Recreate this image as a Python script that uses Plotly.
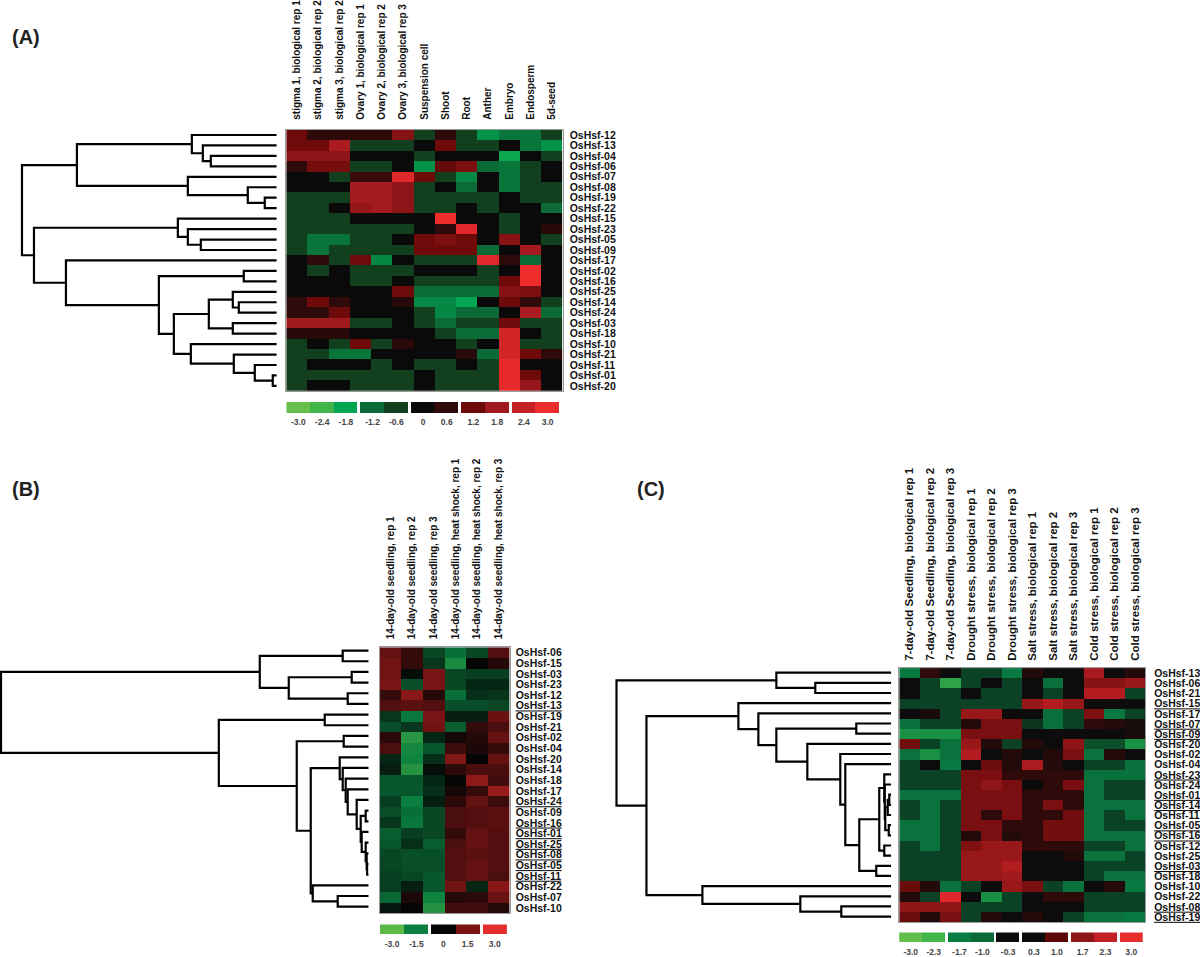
import plotly.graph_objects as go

W, H = 1200, 957

# ---- panel A data ----
a_cols = ['stigma 1, biological rep 1', 'stigma 2, biological rep 2', 'stigma 3, biological rep 2',
          'Ovary 1, biological rep 1', 'Ovary 2, biological rep 2', 'Ovary 3, biological rep 3',
          'Suspension cell', 'Shoot', 'Root', 'Anther', 'Embryo', 'Endosperm', '5d-seed']
a_rows = ['12', '13', '04', '06', '07', '08', '19', '22', '15', '23', '05', '09', '17',
          '02', '16', '25', '14', '24', '03', '18', '10', '21', '11', '01', '20']
a_vals = [
    [1.2, .6, .6, .6, .6, 1.5, -.6, .6, -.6, -1.6, -1.3, -1.3, -.6],
    [1.2, 1.2, 2.0, -.6, -.6, -.6, 0, 1.2, -.6, -.6, 0, -1.3, -1.6],
    [1.6, 1.6, 1.6, 0, 0, 0, -.6, 0, 0, 0, -1.9, 0, -.6],
    [.6, 1.3, 1.3, -.6, -.6, 0, -1.6, 1.1, 1.4, -1.2, -1.3, -.6, 0],
    [0, 0, -.6, .7, .7, 2.8, 1.2, -.6, -1.5, 0, -1.3, -.6, 0],
    [0, 0, 0, 1.9, 1.9, 1.6, -.6, 0, -1.2, 0, -1.3, -.6, -.6],
    [-.6, -.6, -.6, 1.9, 1.9, 1.6, -.6, -.6, -.6, -.6, 0, -.6, -.6],
    [-.6, -.6, 0, 1.7, 1.9, 1.6, -.6, -.6, 0, -.6, 0, 0, -1.2],
    [-.6, -.6, -.6, 0, 0, 0, 0, 3.0, 0, 0, -.6, 0, 0],
    [-.6, -.6, -.6, -.6, -.6, -.6, 0, .6, 2.8, 0, -.6, 0, .5],
    [-.6, -1.3, -1.3, -.6, -.6, 0, 1.2, 1.4, 1.2, 0, 1.5, 0, -.6],
    [-.6, -1.3, -.6, -.6, -.6, -.6, 1.2, 1.2, 1.2, -1.2, 0, 1.9, 0],
    [0, .6, -.6, 1.2, -1.5, 0, -.6, -.6, -.6, 2.8, .6, -1.2, 0],
    [0, -.6, 0, -.6, -.6, -.6, 0, 0, 0, -.6, 0, 3.0, 0],
    [0, 0, 0, -.6, -.6, 0, -.6, -.6, -.6, -.6, 1.2, 3.0, 0],
    [0, 0, 0, 0, 0, 1.2, -1.2, -1.2, -1.2, -1.2, 1.5, 1.4, 0],
    [.6, 1.2, .6, 0, 0, .5, -1.5, -1.5, -1.8, 0, 1.2, .6, -.6],
    [.6, .6, 1.2, 0, 0, 0, -.6, -1.5, -1.2, -1.2, 0, 2.0, -1.2],
    [1.8, 1.8, 1.8, -.6, -.6, 0, -.6, -1.2, -.6, -.6, 1.2, -.6, -.6],
    [.5, .5, .5, 0, 0, 0, 0, -.6, -1.2, -1.2, 2.6, 0, -.6],
    [-.6, 0, -.6, 1.2, -.6, .5, 0, 0, -.6, 0, 2.6, -.6, -.6],
    [-.6, -.6, -1.3, -1.3, 0, 0, 0, 0, .5, -1.2, 2.6, 1.2, .6],
    [-.6, 0, 0, 0, -.6, 0, -.6, -.6, 0, -.6, 2.9, 0, 0],
    [-.6, -.6, -.6, -.6, -.6, -.6, 0, -.6, -.6, -.6, 2.9, 1.2, 0],
    [-.6, 0, 0, -.6, -.6, -.6, 0, -.6, -.6, -.6, 2.9, 1.7, 0],
]
# dendrogram: [height, child, child], ints are rows
a_tree = [255,
          [200,
           [85, 0, [74, 1, [66, 2, 3]]],
           [89, 4, [29, 5, [12, 6, 7]]]],
          [243,
           [99, 8, [89, 9, [76, 10, 11]]],
           [211, 12,
            [118,
             [33, 13, 14],
             [103,
              [68, [44, 15, [38, 16, 17]], [44, 18, 19]],
              [86, 20, [43, 21, [22, 22, [4, 23, 24]]]]]]]]]
a_bar_vals = [-3.0, -2.4, -1.8, -1.2, -.6, 0, .6, 1.2, 1.8, 2.4, 3.0]
a_bar_text = ['-3.0', '-2.4', '-1.8', '-1.2', '-0.6', '0', '0.6', '1.2', '1.8', '2.4', '3.0']
a_bar_groups = [3, 2, 2, 2, 2]
a_colors = ['#66bf4a', '#3fb54a', '#00a651', '#0a6b37', '#12401f', '#0a0a0a',
            '#2e0a0a', '#6e0a0a', '#9e1a1d', '#c32126', '#ed2c2c']

# ---- panel B data ----
b_cols = ['14-day-old seedling, rep 1', '14-day-old seedling, rep 2', '14-day-old seedling, rep 3',
          '14-day-old seedling, heat shock, rep 1', '14-day-old seedling, heat shock, rep 2',
          '14-day-old seedling, heat shock, rep 3']
b_rows = ['06', '15', '03', '23', '12', '13', '19', '21', '02', '04', '20', '14', '18',
          '17', '24', '09', '16', '01', '25', '08', '05', '11', '22', '07', '10']
b_under = ['13', '24', '16', '01', '25', '08', '05', '11']
b_vals = [
    [1.2, .6, -.8, -1.3, -.8, 1.0],
    [1.4, .6, -.6, -1.8, 0, .4],
    [1.4, -.1, 1.5, -.8, -.7, -.7],
    [1.5, -.9, 1.5, -.8, -.4, -.4],
    [.6, 1.7, .4, -1.3, -.5, -.6],
    [1.0, 1.1, 1.0, -.9, -.9, -.8],
    [-.6, -1.4, 1.5, -.3, -.3, 1.3],
    [-.9, -.6, 1.4, -1.1, .6, .9],
    [.5, -2.1, -.4, .2, .4, 1.2],
    [.9, -1.7, -1.0, .7, .3, .6],
    [-.4, -1.6, -.5, 1.6, 0, 1.2],
    [-.3, -2.0, -.1, .5, .9, .9],
    [-1.0, -1.0, -.4, 0, 1.8, .8],
    [-1.0, -1.0, -.5, .2, .6, 1.9],
    [-.7, -1.5, -.3, .5, 1.2, .7],
    [-.9, -1.3, -.8, .9, 1.0, 1.1],
    [-.6, -1.4, -.8, .9, 1.0, 1.1],
    [-1.1, -.7, -.8, .6, 1.2, 1.0],
    [-1.0, -.5, -1.1, .9, 1.2, 1.0],
    [-.8, -.9, -.9, 1.0, 1.1, 1.0],
    [-.8, -.9, -.9, 1.0, 1.2, 1.0],
    [-.7, -.8, -1.0, 1.0, 1.2, .9],
    [-.7, -.3, -1.0, 1.4, -.4, 1.7],
    [-1.2, .3, -1.6, .4, .5, 1.3],
    [-.2, 0, -2.0, .8, .8, .4],
]
b_tree = [368,
          [109,
           [26, 0, 1],
           [80, [17, 2, 3], [21, 4, 5]]],
          [150,
           [44, 6, 7],
           [72,
            [25, 8, 9],
            [58,
             [29, 10,
              [26, 11,
               [23, 12,
                [21, 13,
                 [12, 14,
                  [8,
                   [3, 15, 16],
                   [7, 17, [3, 18, [2, 19, [1.5, 20, 21]]]]]]]]]],
             [56, 22, [31, 23, 24]]]]]]
b_bar_vals = [-3.0, -1.5, 0, 1.5, 3.0]
b_bar_text = ['-3.0', '-1.5', '0', '1.5', '3.0']
b_bar_groups = [2, 2, 1]
b_colors = ['#5ab947', '#0a7f40', '#050505', '#7a1414', '#e52d2d']

# ---- panel C data ----
c_cols = ['7-day-old Seedling, biological rep 1', '7-day-old Seedling, biological rep 2',
          '7-day-old Seedling, biological rep 3', 'Drought stress, biological rep 1',
          'Drought stress, biological rep 2', 'Drought stress, biological rep 3',
          'Salt stress, biological rep 1', 'Salt stress, biological rep 2', 'Salt stress, biological rep 3',
          'Cold stress, biological rep 1', 'Cold stress, biological rep 2', 'Cold stress, biological rep 3']
c_rows = ['13', '06', '21', '15', '17', '07', '09', '20', '02', '04', '23', '24', '01',
          '14', '11', '05', '16', '12', '25', '03', '18', '10', '22', '08', '19']
c_under = ['15', '07', '09', '23', '01', '14', '05', '16', '03', '08', '19']
c_vals = [
    [-1.5, .6, 0, -.7, -.7, -1.6, .5, 0, 0, 2.0, 0, .5],
    [0, -.7, -2.1, -.7, 0, -.7, 0, -1.2, 0, 1.6, 1.6, 1.8],
    [0, -.7, -.7, 0, -.7, -.7, 0, -.7, 0, 2.1, 2.1, -.7],
    [-.7, -.7, -.7, -.7, -.7, -.7, 1.8, 2.1, 1.8, 0, 0, 0],
    [0, .4, -.7, 1.8, 1.8, 0, 0, -1.2, -.7, 1.5, -1.6, -.7],
    [-1.2, -.7, -.7, .5, 1.4, 1.4, -.6, -1.2, -.7, .6, .5, .4],
    [-1.9, -1.9, -1.9, 1.4, 1.4, 1.4, 0, 0, 0, 0, 0, .4],
    [1.3, -.7, -1.3, 1.8, .5, -.7, .5, 0, 1.7, -.8, -.8, -1.9],
    [-1.3, -1.9, -1.3, 2.1, 0, .5, 0, .5, 1.4, -1.3, .5, 0],
    [-.7, 0, -1.6, 0, 1.2, .5, 2.0, .5, 0, -.7, -.7, -1.2],
    [-.7, -.7, -.7, 1.4, 1.4, .6, .6, .6, .6, -1.3, -1.3, -1.3],
    [-.7, -.7, -.7, 1.4, 1.7, 1.4, 0, .6, 1.4, -1.3, -.7, -.7],
    [-1.3, -1.3, -1.3, 1.4, 1.4, 1.4, .6, .6, .6, -1.3, -.7, -.7],
    [-.7, -1.3, -.7, 1.4, 1.4, 1.4, .6, 1.4, .6, -1.3, -1.3, -1.3],
    [-.7, -1.3, -.7, 1.4, .6, 1.4, .6, .6, 1.3, -1.3, -.7, -1.3],
    [-1.3, -1.3, -.7, 1.4, 1.4, .6, .6, 1.3, 1.3, -1.3, -.7, -.7],
    [-1.3, -1.3, -.7, .5, 1.4, .5, .6, 1.3, 1.3, -1.3, -1.3, -1.3],
    [-.7, -1.3, -.7, 1.5, 1.8, 1.8, .6, .6, .6, -.7, -.7, -1.3],
    [-.7, -.7, -.7, 1.8, 1.8, 1.8, 0, 0, .5, -1.3, -1.3, -.7],
    [-.7, -.7, -.7, 1.8, 1.8, 2.1, 0, 0, 0, -.7, -.7, -.7],
    [-.7, -.7, -.7, 1.8, 1.8, 1.9, 0, 0, 0, -.7, -1.3, -1.3],
    [1.2, .5, -1.3, -.7, 0, 1.8, 1.4, -.7, -1.3, 0, .5, -1.6],
    [.5, -.7, 2.8, 0, -1.9, -.7, 0, .6, .6, -.7, -.7, -.7],
    [1.7, 1.7, 1.7, -.7, -.7, -.7, 0, 0, 0, -.7, -.7, -.7],
    [1.2, .5, 1.4, -.7, .5, 0, .5, 0, -.7, -1.3, -1.3, -1.6],
]
c_tree = [275,
          [115, 0, [76, 1, 2]],
          [245,
           [153, 3,
            [133, 4,
             [115,
              [35, 5, 6],
              [84, 7,
               [51, 8,
                [46, 9,
                 [32,
                  [12,
                   [7, 10,
                    [6.5, 11,
                     [6,
                      [3.5, [2, 12, 13], 14],
                      [2.5, 15, 16]]]],
                   [7, 17, 18]],
                  [15, 19, 20]]]]]]]],
           [189, 21, [91, 22, [50, 23, 24]]]]]
c_bar_vals = [-3.0, -2.3, -1.7, -1.0, -.3, .3, 1.0, 1.7, 2.3, 3.0]
c_bar_text = ['-3.0', '-2.3', '-1.7', '-1.0', '-0.3', '0.3', '1.0', '1.7', '2.3', '3.0']
c_bar_groups = [2, 2, 1, 2, 2, 1]
c_colors = ['#5fbf4a', '#3fb54a', '#087d43', '#0b6a37', '#0c0c0c', '#0c0c0c',
            '#5c0808', '#8f1517', '#c32025', '#e82d2d']

fig = go.Figure()
axis_count = 0
LABEL_FONT = 'Liberation Sans'


def new_axes(left, right, top, bottom, xopts, yopts):
    # pixel box -> a fresh pair of axes
    global axis_count
    axis_count += 1
    n = '' if axis_count == 1 else str(axis_count)
    base = dict(showgrid=False, zeroline=False, showticklabels=False, ticks='', fixedrange=True)
    xa = dict(base, domain=[left / W, right / W], anchor='y' + n)
    xa.update(xopts)
    ya = dict(base, domain=[1 - bottom / H, 1 - top / H], anchor='x' + n)
    ya.update(yopts)
    fig.update_layout(**{'xaxis' + n: xa, 'yaxis' + n: ya})
    return 'x' + n, 'y' + n


def walk(node, xs, ys):
    # returns the y of this node, appends its elbow segments
    if isinstance(node, int):
        return 0, node
    h = node[0]
    (h1, y1), (h2, y2) = walk(node[1], xs, ys), walk(node[2], xs, ys)
    xs += [h1, h, h, h2, None]
    ys += [y1, y1, y2, y2, None]
    return h, (y1 + y2) / 2


def draw_dendro(tree, leaf_x, top, bottom):
    xs, ys = [], []
    walk(tree, xs, ys)
    ext = min(tree[0] + 3, leaf_x)
    xa, ya = new_axes(leaf_x - ext, leaf_x, top, bottom,
                      dict(range=[ext, 0]), dict(range=[24.5, -0.5]))
    fig.add_trace(go.Scatter(x=xs, y=ys, mode='lines', xaxis=xa, yaxis=ya, showlegend=False,
                             hoverinfo='skip', line=dict(color='black', width=2.2)))


def draw_heat(vals, cols, rows, under, scale, box, top_size, top_pad, right_pad):
    left, right, top, bottom = box
    ticks = []
    for r in rows:
        name = 'OsHsf-' + r
        ticks.append('<b><u>%s</u></b>' % name if r in under else '<b>%s</b>' % name)
    xa, ya = new_axes(left, right, top, bottom,
                      dict(side='top', range=[-0.5, len(cols) - 0.5], showticklabels=True,
                           tickmode='array', tickvals=list(range(len(cols))),
                           ticktext=['<b>%s</b>' % c for c in cols], tickangle=-90,
                           ticks='outside', ticklen=top_pad, tickcolor='rgba(0,0,0,0)',
                           tickfont=dict(family=LABEL_FONT, size=top_size, color='#111'),
                           showline=True, mirror=True, linecolor='#999', linewidth=1),
                      dict(side='right', range=[24.5, -0.5], showticklabels=True,
                           tickmode='array', tickvals=list(range(25)), ticktext=ticks,
                           ticks='outside', ticklen=right_pad, tickcolor='rgba(0,0,0,0)',
                           tickfont=dict(family=LABEL_FONT, size=10.5, color='#111'),
                           showline=True, mirror=True, linecolor='#999', linewidth=1))
    fig.add_trace(go.Heatmap(z=vals, xaxis=xa, yaxis=ya, zmin=-3, zmax=3, colorscale=scale,
                             showscale=False, hoverongaps=False))


def draw_bar(vals, text, groups, scale, box):
    left, right, top, bottom = box
    xs = []
    pos = 0
    for g in groups:
        xs += [pos + i for i in range(g)]
        pos += g + 0.12
    xa, ya = new_axes(left, right, top, bottom,
                      dict(range=[-0.5, xs[-1] + 0.5], showticklabels=True, tickmode='array',
                           tickvals=xs, ticktext=['<b>%s</b>' % t for t in text], tickangle=0,
                           ticks='outside', ticklen=1, tickcolor='rgba(0,0,0,0)',
                           tickfont=dict(family=LABEL_FONT, size=8.5, color='#444')),
                      dict(range=[0, 1]))
    fig.add_trace(go.Bar(x=xs, y=[1] * len(xs), width=1, xaxis=xa, yaxis=ya, showlegend=False,
                         marker=dict(color=vals, colorscale=scale, cmin=-3, cmax=3, line_width=0)))


def make_scale(vals, colors):
    return [[(v + 3) / 6, c] for v, c in zip(vals, colors)]


a_scale = make_scale(a_bar_vals, a_colors)
b_scale = make_scale(b_bar_vals, b_colors)
c_scale = make_scale(c_bar_vals, c_colors)

draw_dendro(a_tree, 277, 129.7, 393)
draw_heat(a_vals, a_cols, a_rows, [], a_scale, (286.5, 563, 129.7, 393), 10, 7, 4)
draw_bar(a_bar_vals, a_bar_text, a_bar_groups, a_scale, (286.7, 560, 404, 415))

draw_dendro(b_tree, 369, 649, 917.7)
draw_heat(b_vals, b_cols, b_rows, b_under, b_scale, (380, 510, 651, 919), 10, 5, 3)
draw_bar(b_bar_vals, b_bar_text, b_bar_groups, b_scale, (380.3, 507.3, 930.3, 940.7))

draw_dendro(c_tree, 892, 671.5, 927.5)
draw_heat(c_vals, c_cols, c_rows, c_under, c_scale, (900, 1146, 672, 928), 11.5, 4, 6)
draw_bar(c_bar_vals, c_bar_text, c_bar_groups, c_scale, (900, 1143.7, 938.3, 948.3))

for txt, px, py in [('(A)', 10, 36), ('(B)', 10, 492), ('(C)', 636, 492)]:
    fig.add_annotation(text='<b>%s</b>' % txt, xref='paper', yref='paper', x=px / W, y=1 - py / H,
                       xanchor='left', yanchor='middle', showarrow=False,
                       font=dict(family=LABEL_FONT, size=20, color='#222'))

fig.update_layout(width=W, height=H, margin=dict(l=0, r=0, t=0, b=0), autosize=False,
                  plot_bgcolor='white', paper_bgcolor='white', showlegend=False, bargap=0)

# page margin would push the figure off the window
fig.write_html("out.html", config=dict(displayModeBar=False),
               post_script="document.body.style.margin='0';")
